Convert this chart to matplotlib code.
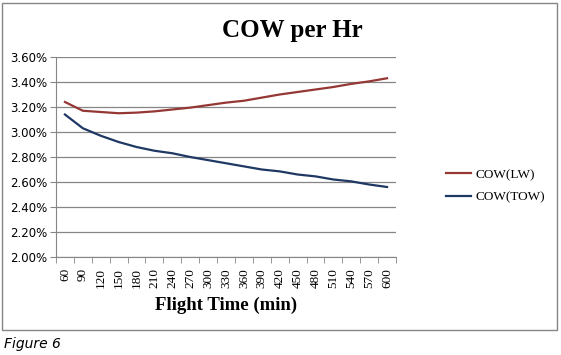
import numpy as np
import matplotlib.pyplot as plt
from matplotlib.patches import Rectangle
from matplotlib.ticker import FixedLocator, PercentFormatter

# ── Data ──────────────────────────────────────────────────────────────────────
flight_time = [60, 90, 120, 150, 180, 210, 240, 270, 300, 330,
               360, 390, 420, 450, 480, 510, 540, 570, 600]
cow_lw = [3.24, 3.17, 3.16, 3.15, 3.155, 3.165, 3.18, 3.195, 3.215, 3.235,
          3.25, 3.275, 3.30, 3.32, 3.34, 3.36, 3.385, 3.405, 3.43]
cow_tow = [3.14, 3.03, 2.97, 2.92, 2.88, 2.85, 2.83, 2.80, 2.775, 2.75,
           2.725, 2.70, 2.685, 2.66, 2.645, 2.62, 2.605, 2.58, 2.56]
y_ticks = [2.00, 2.20, 2.40, 2.60, 2.80, 3.00, 3.20, 3.40, 3.60]

RED = "#953735"
BLUE = "#1F3864"
GRID = "#868686"
SERIF = "Liberation Serif"

fig = plt.figure(figsize=(5.61, 3.55), dpi=100)
ax = fig.add_axes([56 / 561, 1 - 257 / 355, 340 / 561, 200 / 355])

x = np.arange(len(flight_time))
ax.plot(x, cow_lw, color=RED, lw=1.6, label="COW(LW)")
ax.plot(x, cow_tow, color=BLUE, lw=1.6, label="COW(TOW)")

ax.set_xlim(-0.5, len(x) - 0.5)
ax.set_ylim(2.0, 3.6)
ax.set_yticks(y_ticks)
ax.yaxis.set_major_formatter(PercentFormatter(decimals=2))
ax.yaxis.grid(True, color=GRID, lw=0.9)
ax.set_axisbelow(True)

ax.set_xticks(x)
ax.set_xticklabels([str(v) for v in flight_time], rotation=90,
                   family=SERIF, fontsize=9.5)
ax.xaxis.set_minor_locator(FixedLocator(np.arange(-0.5, len(x), 1.0)))
ax.tick_params(axis="x", which="major", length=0, pad=8)
ax.tick_params(axis="x", which="minor", length=4, color=GRID)
ax.tick_params(axis="y", length=4, color=GRID, labelsize=8.5, pad=2)
for lab in ax.get_yticklabels():
    lab.set_family("DejaVu Sans")

for side in ("top", "right"):
    ax.spines[side].set_visible(False)
for side in ("left", "bottom"):
    ax.spines[side].set_color(GRID)

ax.set_xlabel("Flight Time (min)", family=SERIF, fontweight="bold",
              fontsize=13.5, labelpad=6)
fig.text(292 / 561, 1 - 30 / 355, "COW per Hr", ha="center", va="center",
         family=SERIF, fontweight="bold", fontsize=18)

leg = fig.legend(loc="center left", bbox_to_anchor=(446 / 561, 1 - 186 / 355),
                 frameon=False, prop={"family": SERIF, "size": 9.5},
                 handlelength=1.9, handletextpad=0.3, labelspacing=0.75,
                 borderpad=0, borderaxespad=0)

# chart frame and caption
fig.patches.append(Rectangle((2 / 561, 1 - 330 / 355), 555 / 561, 327 / 355,
                             transform=fig.transFigure, fill=False,
                             edgecolor=GRID, lw=1))
fig.text(4 / 561, 1 - 344 / 355, "Figure 6", style="italic", fontsize=10,
         va="center", ha="left")

plt.savefig("out.png", dpi=100)
plt.close()
